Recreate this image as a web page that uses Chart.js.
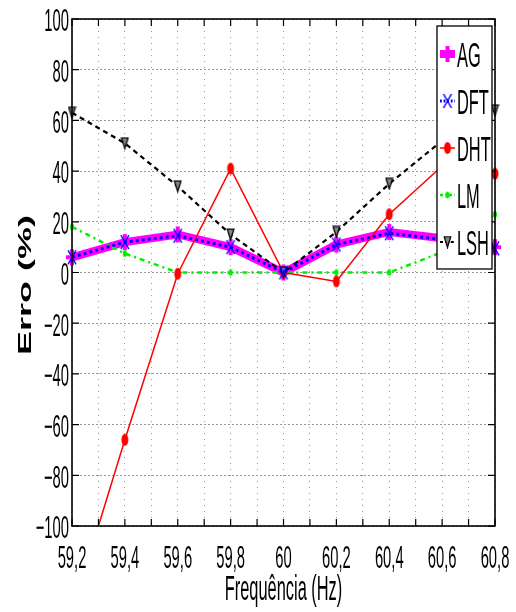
<!DOCTYPE html>
<html>
<head>
<meta charset="utf-8">
<script src="https://cdn.jsdelivr.net/npm/chart.js@4.4.1/dist/chart.umd.min.js"></script>
<style>
  html, body { margin: 0; padding: 0; background: #fff; }
  canvas { display: block; }
</style>
</head>
<body>
<canvas id="erroChart" width="516" height="612"></canvas>
<script>
// frequency (Hz) and error (%) per method
const freq = [59.2, 59.4, 59.6, 59.8, 60, 60.2, 60.4, 60.6, 60.8];
const agErr = [6, 12, 15, 10, 0, 11, 16, 13.5, 10];
const dftErr = [6, 12, 14.5, 10, 0, 11, 15.5, 13, 9.5];
const dhtErr = [-134, -66, -0.5, 41, 0, -3.5, 23, 42, 39];
const lmErr = [18, 7.5, 0, 0, 0, 0, 0, 8, 23];
const lshErr = [63, 51, 34, 15, 0, 16, 35, 52, 64];
const legendNames = ['AG', 'DFT', 'DHT', 'LM', 'LSH'];

const SY = 1.75; // the original picture is stretched vertically
const SX = 0.82; // condensed look
const FONT = '"Liberation Sans", Arial, sans-serif';

function mk(w, h, draw) {
    const c = document.createElement('canvas');
    c.width = w; c.height = h;
    draw(c.getContext('2d'), w, h);
    return c;
}
const mXblue = mk(12, 18, (g, w, h) => {
    g.strokeStyle = '#0000ff'; g.lineWidth = 1.5;
    g.beginPath(); g.moveTo(2, 2); g.lineTo(w - 2, h - 2);
    g.moveTo(w - 2, 2); g.lineTo(2, h - 2); g.stroke();
});
const mDotRed = mk(10, 16, (g, w, h) => {
    g.fillStyle = '#ff0000';
    g.beginPath(); g.ellipse(w / 2, h / 2, 3.5, 6, 0, 0, Math.PI * 2); g.fill();
});
const mDotGreen = mk(6, 10, (g, w, h) => {
    g.fillStyle = '#00ee00';
    g.beginPath(); g.ellipse(w / 2, h / 2, 2, 3.5, 0, 0, Math.PI * 2); g.fill();
});
const mTri = mk(9, 13, (g, w, h) => {
    g.fillStyle = '#888'; g.strokeStyle = '#000'; g.lineWidth = 1.3;
    g.beginPath(); g.moveTo(1.2, 1.2); g.lineTo(w - 1.2, 1.2); g.lineTo(w / 2, h - 1.2);
    g.closePath(); g.fill(); g.stroke();
});
const mPlus = mk(14, 18, (g, w, h) => {
    g.strokeStyle = '#ff00ff'; g.lineWidth = 4;
    g.beginPath(); g.moveTo(w / 2, 1); g.lineTo(w / 2, h - 1);
    g.moveTo(1, h / 2); g.lineTo(w - 1, h / 2); g.stroke();
});

function pts(vals) {
    return freq.map((f, i) => ({x: f, y: vals[i]}));
}
const edgeClip = {left: 6, right: 6, top: 0, bottom: 0};

const datasets = [
    {label: 'AG', data: pts(agErr), borderColor: '#ff00ff', borderWidth: 8,
     pointStyle: mPlus, order: 5},
    {label: 'DFT', data: pts(dftErr), borderColor: '#0000ff', borderWidth: 3,
     borderDash: [3, 3], pointStyle: mXblue, order: 1},
    {label: 'DHT', data: pts(dhtErr), borderColor: '#ff0000', borderWidth: 1.5,
     pointStyle: mDotRed, order: 3},
    {label: 'LM', data: pts(lmErr), borderColor: '#00ee00', borderWidth: 2.5,
     borderDash: [5, 4, 2, 4], pointStyle: mDotGreen, order: 4},
    {label: 'LSH', data: pts(lshErr), borderColor: '#000000', borderWidth: 2.2,
     borderDash: [5, 4], pointStyle: mTri, order: 2}
];
datasets.forEach(d => { d.fill = false; d.tension = 0; d.clip = edgeClip; d.pointRadius = 5; });

function stretchedText(ctx, txt, x, y, align) {
    ctx.save();
    ctx.translate(x, y);
    ctx.scale(SX, SY);
    ctx.textAlign = align;
    ctx.textBaseline = 'alphabetic';
    ctx.fillText(txt, 0, 0);
    ctx.restore();
}

const framePlugin = {
    id: 'frame',
    afterDatasetsDraw(chart) {
        const {ctx, chartArea: a, scales} = chart;
        const xs = scales.x, ys = scales.y;
        ctx.save();
        // box
        ctx.strokeStyle = '#000';
        ctx.lineWidth = 1.6;
        ctx.strokeRect(a.left, a.top, a.right - a.left, a.bottom - a.top);
        // inward ticks
        ctx.lineWidth = 1.2;
        ctx.beginPath();
        xs.ticks.forEach(t => {
            const px = xs.getPixelForValue(t.value);
            ctx.moveTo(px, a.bottom); ctx.lineTo(px, a.bottom - 7);
            ctx.moveTo(px, a.top); ctx.lineTo(px, a.top + 7);
        });
        ys.ticks.forEach(t => {
            const py = ys.getPixelForValue(t.value);
            ctx.moveTo(a.left, py); ctx.lineTo(a.left + 7, py);
            ctx.moveTo(a.right, py); ctx.lineTo(a.right - 7, py);
        });
        ctx.stroke();

        // tick labels
        ctx.fillStyle = '#000';
        ctx.font = '18px ' + FONT;
        xs.ticks.forEach(t => {
            const tenth = Math.round(t.value * 10);
            if (tenth % 2 !== 0) return;
            let lbl = (tenth / 10).toString().replace('.', ',');
            stretchedText(ctx, lbl, xs.getPixelForValue(t.value), 568, 'center');
        });
        ys.ticks.forEach(t => {
            const py = ys.getPixelForValue(t.value);
            const lbl = String(Math.round(t.value)).replace('-', '\u2212');
            stretchedText(ctx, lbl, a.left - 3, py + 0.36 * 18 * SY + 1, 'right');
        });

        // axis titles
        ctx.font = '20px ' + FONT;
        stretchedText(ctx, 'Frequência (Hz)', (a.left + a.right) / 2, 600, 'center');
        ctx.save();
        ctx.font = 'bold 20px ' + FONT;
        ctx.translate(31, 285);
        ctx.rotate(-Math.PI / 2);
        ctx.scale(1.8, 0.95);
        ctx.textAlign = 'center';
        ctx.fillText('Erro (%)', 0, 0);
        ctx.restore();

        // legend box
        const bx = 437, by = 26, bw = 55, bh = 243;
        ctx.fillStyle = '#fff';
        ctx.fillRect(bx, by, bw, bh);
        ctx.strokeStyle = '#000';
        ctx.lineWidth = 1.3;
        ctx.strokeRect(bx, by, bw, bh);
        legendNames.forEach((name, i) => {
            const ds = datasets[i];
            const cy = 54 + i * 47;
            ctx.save();
            ctx.strokeStyle = ds.borderColor;
            ctx.lineWidth = Math.min(ds.borderWidth, 8);
            ctx.setLineDash(ds.borderDash ? ds.borderDash.map(v => v * 0.6) : []);
            ctx.beginPath();
            ctx.moveTo(440, cy); ctx.lineTo(455, cy);
            ctx.stroke();
            ctx.restore();
            const img = ds.pointStyle;
            ctx.drawImage(img, 447.5 - img.width / 2, cy - img.height / 2);
            ctx.fillStyle = '#000';
            ctx.font = '20px ' + FONT;
            stretchedText(ctx, name, 457, cy + 0.716 * 20 * SY / 2, 'left');
        });
        ctx.restore();
    }
};

new Chart(document.getElementById('erroChart'), {
    type: 'line',
    data: {datasets: datasets},
    options: {
        responsive: false,
        animation: false,
        devicePixelRatio: 1,
        layout: {padding: {left: 0, top: 19, right: 21, bottom: 0}},
        plugins: {legend: {display: false}, tooltip: {enabled: false}},
        scales: {
            x: {
                type: 'linear',
                min: 59.2,
                max: 60.8,
                ticks: {stepSize: 0.1, display: false},
                grid: {color: '#9a9a9a', lineWidth: 1, drawTicks: false, tickLength: 0},
                border: {display: false, dash: [1, 5]},
                afterFit(scale) { scale.height = 86; }
            },
            y: {
                min: -100,
                max: 100,
                ticks: {stepSize: 20, display: false},
                grid: {color: '#9a9a9a', lineWidth: 1, drawTicks: false, tickLength: 0},
                border: {display: false, dash: [2, 2]},
                afterFit(scale) { scale.width = 72; }
            }
        }
    },
    plugins: [framePlugin]
});
</script>
</body>
</html>
